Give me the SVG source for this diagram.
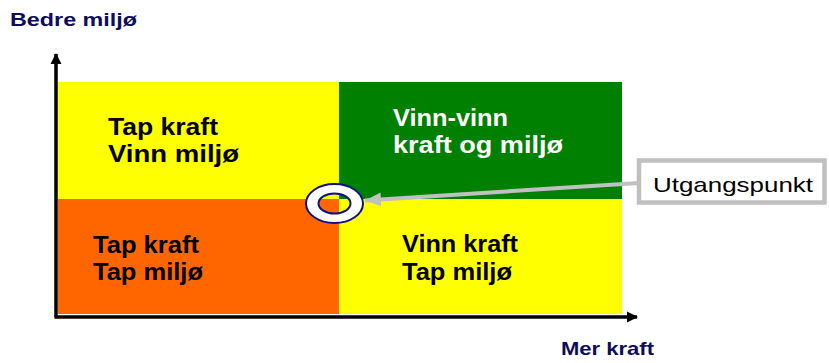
<svg xmlns="http://www.w3.org/2000/svg" width="829" height="363" viewBox="0 0 829 363">
<style>
.q{font-family:"Liberation Sans",Arial,sans-serif;font-weight:bold;font-size:24px}
.ax{font-family:"Liberation Sans",Arial,sans-serif;font-weight:bold;font-size:18.5px;fill:#0d0d5c}
.axis{stroke:#000;stroke-width:3.5;fill:none}
.lbl{font-family:"Liberation Sans",Arial,sans-serif;font-size:21px;fill:#000}
</style>
<defs>
<marker id="ah" markerWidth="12" markerHeight="12" refX="10" refY="6" orient="auto" markerUnits="userSpaceOnUse">
<path d="M0,0.5 L11,6 L0,11.5 Z" fill="#000"/>
</marker>
<marker id="gh" markerWidth="18" markerHeight="16" refX="16" refY="8" orient="auto" markerUnits="userSpaceOnUse">
<path d="M0,1 L16,8 L0,15 Z" fill="#c0c0c0"/>
</marker>
</defs>
<rect width="829" height="363" fill="#fff"/>
<g id="q-tl"><rect x="58" y="82" width="281" height="117" fill="#ffff00"/>
<text class="q" x="108" y="135" textLength="110" lengthAdjust="spacingAndGlyphs">Tap kraft</text>
<text class="q" x="108" y="162" textLength="131" lengthAdjust="spacingAndGlyphs">Vinn miljø</text></g>
<g id="q-tr"><rect x="339" y="82" width="283" height="117" fill="#008000"/>
<text class="q" x="393" y="126" fill="#fff" textLength="115" lengthAdjust="spacingAndGlyphs">Vinn-vinn</text>
<text class="q" x="393" y="153" fill="#fff" textLength="170" lengthAdjust="spacingAndGlyphs">kraft og miljø</text></g>
<g id="q-bl"><rect x="58" y="199" width="281" height="115" fill="#ff6600"/>
<text class="q" x="93" y="253" textLength="106" lengthAdjust="spacingAndGlyphs">Tap kraft</text>
<text class="q" x="93" y="280" textLength="110" lengthAdjust="spacingAndGlyphs">Tap miljø</text></g>
<g id="q-br"><rect x="339" y="199" width="283" height="115" fill="#ffff00"/>
<text class="q" x="402" y="252" textLength="116" lengthAdjust="spacingAndGlyphs">Vinn kraft</text>
<text class="q" x="402" y="280" textLength="110" lengthAdjust="spacingAndGlyphs">Tap miljø</text></g>
<g id="axes">
<line class="axis" x1="56" y1="317" x2="56" y2="54" marker-end="url(#ah)"/>
<line class="axis" x1="54.5" y1="317" x2="637" y2="317" marker-end="url(#ah)"/>
</g>
<g id="axis-labels">
<text class="ax" x="10" y="26" textLength="127" lengthAdjust="spacingAndGlyphs">Bedre miljø</text>
<text class="ax" x="561" y="355" textLength="93" lengthAdjust="spacingAndGlyphs">Mer kraft</text>
</g>
<g id="start-point">
<path d="M306,203.5 a28.5,19.5 0 1,0 57,0 a28.5,19.5 0 1,0 -57,0 Z M318.5,203.5 a16,10 0 1,0 32,0 a16,10 0 1,0 -32,0 Z" fill="#fff" fill-rule="evenodd" stroke="#101080" stroke-width="2"/>
</g>
<g id="connectors">
<line x1="639" y1="183" x2="365" y2="200.5" stroke="#c0c0c0" stroke-width="4" marker-end="url(#gh)"/>
</g>
<g id="utgangspunkt">
<rect x="639" y="160.5" width="185.5" height="42" fill="#fff" stroke="#c0c0c0" stroke-width="4.5"/>
<text class="lbl" x="653" y="192" textLength="160" lengthAdjust="spacingAndGlyphs">Utgangspunkt</text>
</g>
</svg>
